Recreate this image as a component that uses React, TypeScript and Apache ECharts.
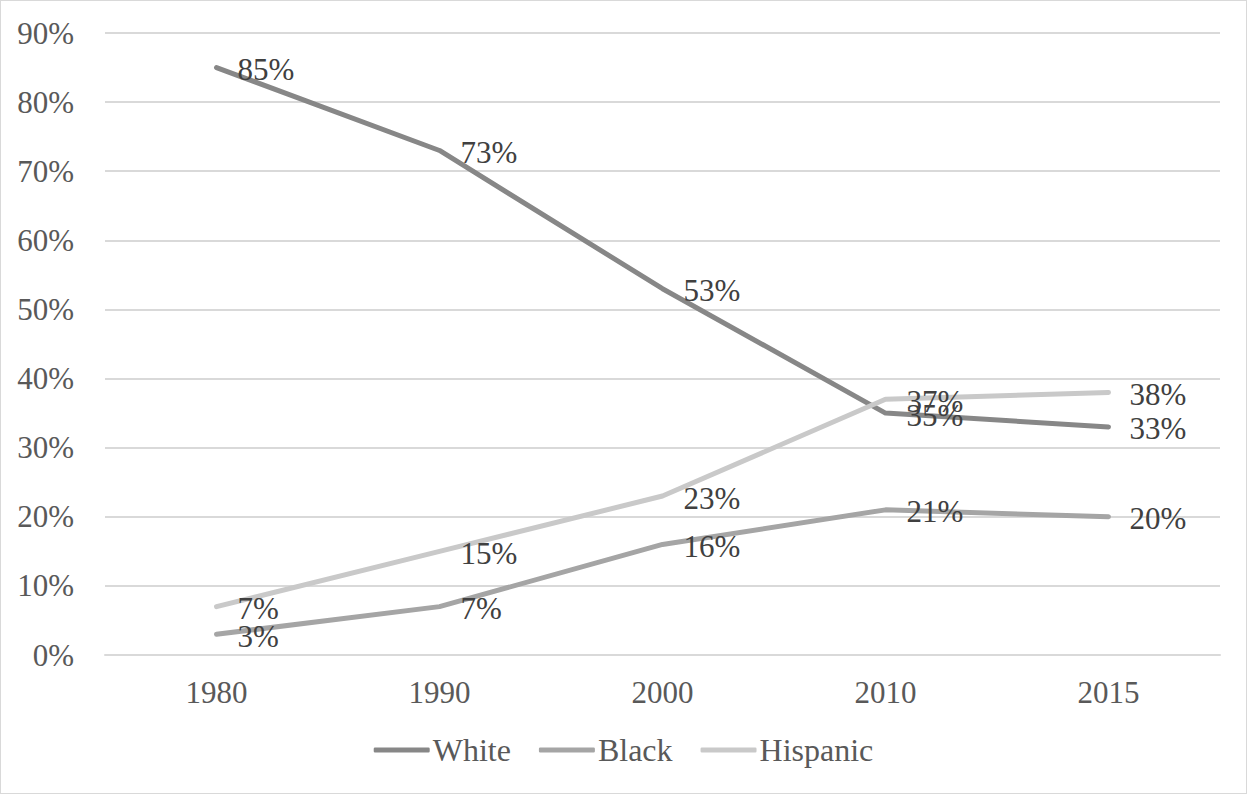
import React, { useEffect, useRef } from "react";
import * as echarts from "echarts";

const years = ["1980", "1990", "2000", "2010", "2015"];
const white = [85, 73, 53, 35, 33];
const black = [3, 7, 16, 21, 20];
const hispanic = [7, 15, 23, 37, 38];
const seriesNames = ["White", "Black", "Hispanic"];
const colors = ["#878787", "#a5a5a5", "#c9c9c9"];

export default function App() {
  const ref = useRef<HTMLDivElement>(null);
  useEffect(() => {
    document.body.style.margin = "0";
    const chart = echarts.init(ref.current!, null, { renderer: "svg" });
    const font = "'Liberation Serif', 'Times New Roman', serif";
    const mk = (name: string, data: number[], color: string) => ({
      name,
      type: "line",
      data,
      symbol: "circle",
      symbolSize: 0,
      showSymbol: true,
      lineStyle: { color, width: 5, cap: "round", join: "round" },
      itemStyle: { color },
      label: {
        show: true,
        position: "right",
        distance: 21,
        offset: [0, 2],
        formatter: (p: any) => p.value + "%",
        color: "#404040",
        fontFamily: font,
        fontSize: 31,
      },
    });
    chart.setOption({
      animation: false,
      backgroundColor: "#ffffff",
      grid: { left: 104, right: 26, top: 32, bottom: 138 },
      xAxis: {
        type: "category",
        data: years,
        boundaryGap: true,
        axisLine: { lineStyle: { color: "#d9d9d9", width: 2 } },
        axisTick: { show: false },
        axisLabel: { color: "#595959", fontFamily: font, fontSize: 31, margin: 22 },
      },
      yAxis: {
        type: "value",
        min: 0,
        max: 90,
        interval: 10,
        axisLine: { show: false },
        axisTick: { show: false },
        splitLine: { lineStyle: { color: "#d9d9d9", width: 2 } },
        axisLabel: {
          color: "#595959",
          fontFamily: font,
          fontSize: 31,
          margin: 31,
          formatter: (v: number) => v + "%",
        },
      },
      legend: {
        data: seriesNames,
        bottom: 22,
        left: "center",
        icon: "roundRect",
        itemWidth: 56,
        itemHeight: 5,
        itemGap: 28,
        textStyle: { color: "#595959", fontFamily: font, fontSize: 32, padding: [0, 0, 0, -2] },
      },
      series: [
        mk(seriesNames[0], white, colors[0]),
        mk(seriesNames[1], black, colors[1]),
        mk(seriesNames[2], hispanic, colors[2]),
      ],
    });
    return () => chart.dispose();
  }, []);
  return (
    <div
      ref={ref}
      style={{
        position: "absolute",
        left: 0,
        top: 0,
        width: 1247,
        height: 794,
        border: "1px solid #d9d9d9",
        boxSizing: "border-box",
      }}
    />
  );
}
